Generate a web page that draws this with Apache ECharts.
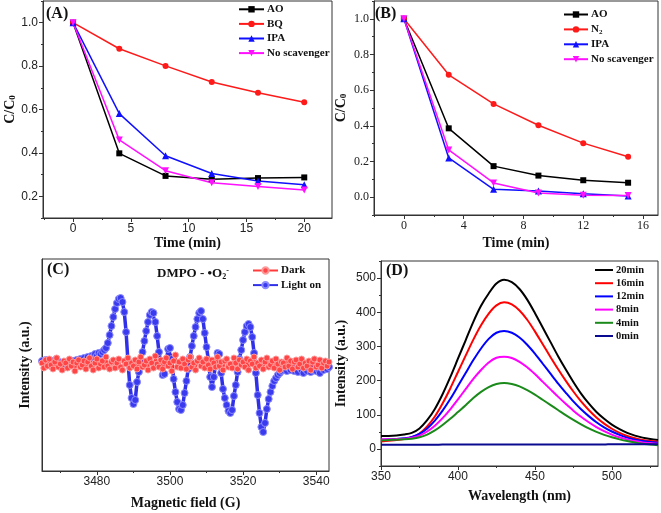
<!DOCTYPE html>
<html><head><meta charset="utf-8">
<script src="https://cdn.jsdelivr.net/npm/echarts@6/dist/echarts.min.js"></script>
<style>html,body{margin:0;padding:0;background:#fff}#c{width:661px;height:513px}</style>
</head><body><div id="c"></div>
<script>
// ---- Panel A ----
const timeA = [0, 4, 8, 12, 16, 20];
const aAO  = [1.0, 0.398, 0.294, 0.279, 0.284, 0.287];
const aBQ  = [1.0, 0.880, 0.801, 0.727, 0.677, 0.633];
const aIPA = [1.0, 0.581, 0.387, 0.305, 0.271, 0.253];
const aNo  = [1.0, 0.460, 0.318, 0.262, 0.245, 0.229];
const ticksA_x = [0, 5, 10, 15, 20];
const minorA_x = [-2.5, 2.5, 7.5, 12.5, 17.5, 22.5];
const ticksA_y = [0.2, 0.4, 0.6, 0.8, 1.0];
const minorA_y = [0.1, 0.3, 0.5, 0.7, 0.9, 1.1];
// ---- Panel B ----
const timeB = [0, 3, 6, 9, 12, 15];
const bAO  = [1.0, 0.386, 0.174, 0.121, 0.095, 0.081];
const bN2  = [1.0, 0.686, 0.523, 0.403, 0.303, 0.227];
const bIPA = [1.0, 0.220, 0.044, 0.034, 0.019, 0.006];
const bNo  = [1.0, 0.265, 0.080, 0.023, 0.011, 0.009];
const ticksB_x = [0, 4, 8, 12, 16];
const minorB_x = [-2, 2, 6, 10, 14];
const ticksB_y = [0.0, 0.2, 0.4, 0.6, 0.8, 1.0];
const minorB_y = [-0.1, 0.1, 0.3, 0.5, 0.7, 0.9, 1.1];
// ---- Panel C (EPR, field sampled every 0.5 G from 3465 G) ----
const fieldStart = 3465, fieldStep = 0.5;
const cDark = [
 2,-3,5,-1,6,0,-4,3,7,-2, 1,-5,4,2,-3,6,-1,3,-6,2, 5,-2,0,4,-4,3,7,-1,-5,2,
 6,-3,1,4,-2,8,-1,-4,3,5, -3,2,6,-2,-5,4,1,7,-3,2, -1,5,-4,3,8,-2,0,4,-5,6,
 2,-3,9,1,-2,5,-4,3,7,-1, 2,-6,4,10,-2,3,-3,6,1,-4, 5,8,-2,2,-5,4,7,-1,3,-3,
 6,0,-4,5,2,-2,8,-1,3,-5, 4,6,-2,1,-3,7,2,-4,5,0, 3,-2,6,-5,4,1,8,-3,2,-1,
 5,-4,3,7,-2,0,4,-3,6,1, -5,3,2,-2,7,-1,4,-4,3,5, -2,1,6,-3,2,-1,4,-5,3,6,
 -2,0,5,-3,2,4,-1,3];
const cLight = [
 4,2,5,1,3,-1,4,2,6,3, 0,2,-2,1,-1,3,0,4,2,5, 3,6,4,7,5,8,6,9,8,11,
 9,12,11,13,15,17,22,30,39,48, 56,62,66,67,63,53,33,4,-20,-33, -39,-35,-17,-7,3,13,24,34,43,50,
 53,52,43,29,13,1,-10,-9,4,16, 17,6,-14,-27,-37,-44,-45,-40,-28,-16, -4,8,19,29,38,46,52,54,46,32,
 18,5,-12,-22,-12,2,12,11,-8,-24, -33,-40,-46,-48,-45,-31,-20,-7,6,15, 25,33,39,41,38,28,12,-8,-30,-48,
 -62,-67,-58,-44,-34,-27,-21,-16,-13,-10, -8,-6,-5,-4,-6,-3,-5,-2,-6,-4, -7,-3,-5,-8,-4,-6,-3,-7,-5,-2,
 -6,-4,-8,-3,-5,0,-4,-2];
const ticksC_x = [3480, 3500, 3520, 3540];
const minorC_x = [3470, 3490, 3510, 3530];
// ---- Panel D ----
const wl = [350,355,360,365,370,375,380,385,390,395,400,405,410,415,420,425,430,435,440,445,450,455,460,465,470,475,480,485,490,495,500,505,510,515,520,525,530];
const d20 = [38,38,39,42,47,60,84,117,160,210,264,318,372,419,455,484,495,488,468,437,398,356,314,272,233,196,162,133,108,88,71,58,47,39,33,29,26];
const d16 = [22,24,26,29,34,45,66,95,133,177,225,273,320,362,396,420,429,423,405,378,344,307,270,234,200,168,139,114,92,74,59,47,38,31,26,23,21];
const d12 = [27,28,29,31,35,44,60,83,112,146,184,222,260,294,322,340,345,340,326,305,279,250,221,192,165,139,116,96,78,63,51,41,33,27,23,20,18];
const d8  = [28,28,29,30,33,39,51,68,90,116,145,175,205,231,253,267,270,266,255,239,219,197,175,153,132,112,94,78,64,52,42,34,28,23,19,17,15];
const d4  = [25,26,27,28,30,34,42,54,70,88,108,128,149,167,181,190,193,190,183,172,159,144,129,114,99,85,72,60,50,41,34,28,23,19,15,13,11];
const d0  = [12,12,12,12,12,12,12,12,13,13,13,13,13,13,13,13,13,13,13,13,13,13,13,13,13,13,13,13,13,13,14,14,14,14,14,14,14];
const ticksD_x = [350, 400, 450, 500];
const minorD_x = [375, 425, 475, 525];
const ticksD_y = [0, 100, 200, 300, 400, 500];
const minorD_y = [-50, 50, 150, 250, 350, 450, 550];

const SERIF = '"Liberation Serif","Times New Roman",serif';
const SANS = '"Liberation Sans",Arial,sans-serif';
const zip = (xs, ys) => ys.map((v, i) => [xs[i], v]);
const fieldX = cLight.map((_, i) => fieldStart + i * fieldStep);
const AX = '#333';

function xAx(grid, min, max, ticks, name, gap, font, fmt) {
  return { type: 'value', gridIndex: grid, min, max, name, nameLocation: 'middle', nameGap: gap, position: 'bottom',
    nameTextStyle: { fontFamily: SERIF, fontWeight: 'bold', fontSize: 14, color: '#111' },
    axisLine: { show: true, onZero: false, lineStyle: { color: AX, width: 1 } },
    axisTick: { show: true, inside: false, length: 4, customValues: ticks, lineStyle: { color: AX } },
    axisLabel: { customValues: ticks, margin: 5, fontFamily: font, fontSize: 12, color: '#222', formatter: fmt },
    splitLine: { show: false } };
}
function yAx(grid, min, max, ticks, name, gap, font, fmt) {
  const o = { type: 'value', gridIndex: grid, min, max, name, nameLocation: 'middle', nameGap: gap, position: 'left',
    nameTextStyle: { fontFamily: SERIF, fontWeight: 'bold', fontSize: 14, color: '#111',
      rich: { sub: { fontFamily: SERIF, fontWeight: 'bold', fontSize: 9, verticalAlign: 'bottom' } } },
    axisLine: { show: true, onZero: false, lineStyle: { color: AX, width: 1 } },
    axisTick: { show: !!ticks, inside: false, length: 4, lineStyle: { color: AX } },
    axisLabel: { show: !!ticks, margin: 5, fontFamily: font, fontSize: 12, color: '#222', formatter: fmt },
    splitLine: { show: false } };
  if (ticks) { o.axisTick.customValues = ticks; o.axisLabel.customValues = ticks; }
  return o;
}
function minorAx(kind, grid, min, max, ticks) {
  return { type: 'value', gridIndex: grid, min, max, position: kind === 'x' ? 'bottom' : 'left', offset: 0,
    axisLine: { show: false, onZero: false }, axisLabel: { show: false }, splitLine: { show: false },
    axisTick: { show: true, inside: false, length: 2, customValues: ticks, lineStyle: { color: AX } } };
}
const f1 = v => v.toFixed(1);
const f0 = v => String(Math.round(v));

function lineS(name, xi, data, color, symbol, size) {
  return { type: 'line', name, xAxisIndex: xi, yAxisIndex: xi, data, symbol, symbolSize: size,
    lineStyle: { color, width: 1.5 }, itemStyle: { color }, animation: false };
}
function legend(left, top, names, lh, gap, w, size, extra) {
  return Object.assign({ orient: 'vertical', left, top, padding: 0, data: names, itemGap: gap, itemWidth: w, itemHeight: 8,
    selectedMode: false,
    formatter: n => (n === 'N2' ? 'N{sub|2}' : n),
    textStyle: { fontFamily: SERIF, fontWeight: 'bold', fontSize: size, lineHeight: lh, color: '#111', padding: [0, 0, 0, -2],
      rich: { sub: { fontFamily: SERIF, fontWeight: 'bold', fontSize: 7, lineHeight: lh, verticalAlign: 'bottom', padding: [4, 0, 0, 0] } } } }, extra || {});
}
const dLine = (name, data, color) => ({ type: 'line', name, xAxisIndex: 3, yAxisIndex: 3, data, symbol: 'none', smooth: 0.3,
  lineStyle: { color, width: 2 }, itemStyle: { color }, animation: false });

const option = {
  backgroundColor: '#fff',
  animation: false,
  grid: [
    { left: 43, top: 1, width: 289, height: 217, show: true, borderColor: AX, borderWidth: 1 },
    { left: 374, top: 1, width: 284, height: 214, show: true, borderColor: AX, borderWidth: 1 },
    { left: 42, top: 259, width: 287, height: 212, show: true, borderColor: AX, borderWidth: 1 },
    { left: 381, top: 261, width: 277, height: 205, show: true, borderColor: AX, borderWidth: 1 }
  ],
  xAxis: [
    xAx(0, -2.6, 22.4, ticksA_x, 'Time (min)', 17, SANS, f0),
    xAx(1, -2, 17, ticksB_x, 'Time (min)', 21, SERIF, f0),
    xAx(2, 3465, 3543.5, ticksC_x, 'Magnetic field (G)', 25, SANS, f0),
    xAx(3, 350, 530, ticksD_x, 'Wavelength (nm)', 23, SANS, f0),
    minorAx('x', 0, -2.6, 22.4, minorA_x),
    minorAx('x', 1, -2, 17, minorB_x),
    minorAx('x', 2, 3465, 3543.5, minorC_x),
    minorAx('x', 3, 350, 530, minorD_x)
  ],
  yAxis: [
    yAx(0, 0.1, 1.1, ticksA_y, 'C/C{sub|0}', 25, SANS, f1),
    yAx(1, -0.1, 1.1, ticksB_y, 'C/C{sub|0}', 26, SERIF, f1),
    yAx(2, -106, 106, null, 'Intensity (a.u.)', 10, SANS, f0),
    yAx(3, -50, 550, ticksD_y, 'Intensity (a.u.)', 33, SANS, f0),
    minorAx('y', 0, 0.1, 1.1, minorA_y),
    minorAx('y', 1, -0.1, 1.1, minorB_y),
    minorAx('y', 3, -50, 550, minorD_y)
  ],
  legend: [
    legend(238, 3.3, ['AO', 'BQ', 'IPA', 'No scavenger'], 12, 2.6, 25, 11),
    legend(563, 8.5, ['AO', 'N2', 'IPA', 'No scavenger'], 12, 2.9, 24, 11),
    legend(252, 264.5, ['Dark', 'Light on'], 12, 2.6, 25, 11),
    legend(595, 264.5, ['20min', '16min', '12min', '8min', '4min', '0min'], 11, 2.2, 18, 10.5, { icon: 'rect', itemHeight: 2 })
  ],
  graphic: [
    { type: 'text', left: 46, top: 6, style: { text: '(A)', font: 'bold 16px ' + SERIF, fill: '#111' } },
    { type: 'text', left: 375, top: 6, style: { text: '(B)', font: 'bold 16px ' + SERIF, fill: '#111' } },
    { type: 'text', left: 47, top: 262, style: { text: '(C)', font: 'bold 16px ' + SERIF, fill: '#111' } },
    { type: 'text', left: 386, top: 263, style: { text: '(D)', font: 'bold 16px ' + SERIF, fill: '#111' } },
    { type: 'text', left: 157, top: 267, style: { text: 'DMPO - •O{sub|2}{sup|-}', font: 'bold 13px ' + SERIF, fill: '#111',
      rich: { sub: { font: 'bold 8px ' + SERIF, fill: '#111', padding: [6, 0, 0, 0] },
              sup: { font: 'bold 8px ' + SERIF, fill: '#111', padding: [0, 0, 6, 0] } } } }
  ],
  series: [
    lineS('AO', 0, zip(timeA, aAO), '#000000', 'rect', 6),
    lineS('BQ', 0, zip(timeA, aBQ), '#ff1a1a', 'circle', 6),
    lineS('IPA', 0, zip(timeA, aIPA), '#1010ff', 'triangle', 7),
    lineS('No scavenger', 0, zip(timeA, aNo), '#ff10ff', 'path://M0,0 L10,0 L5,9 Z', 7),
    lineS('AO', 1, zip(timeB, bAO), '#000000', 'rect', 6),
    lineS('N2', 1, zip(timeB, bN2), '#ff1a1a', 'circle', 6),
    lineS('IPA', 1, zip(timeB, bIPA), '#1010ff', 'triangle', 7),
    lineS('No scavenger', 1, zip(timeB, bNo), '#ff10ff', 'path://M0,0 L10,0 L5,9 Z', 7),
    Object.assign(lineS('Light on', 2, zip(fieldX, cLight), '#2a2af0', 'circle', 7),
      { z: 2, itemStyle: { color: '#3a3aee', borderColor: '#8c8cff', borderWidth: 1 }, lineStyle: { color: '#3030e8', width: 3.5 } }),
    Object.assign(lineS('Dark', 2, zip(fieldX, cDark), '#ff3b3b', 'circle', 6),
      { z: 3, itemStyle: { color: '#ff4545', borderColor: '#ff9a9a', borderWidth: 1 }, lineStyle: { color: '#ff3b3b', width: 2 } }),
    dLine('20min', zip(wl, d20), '#000000'),
    dLine('16min', zip(wl, d16), '#ff0000'),
    dLine('12min', zip(wl, d12), '#0000ff'),
    dLine('8min', zip(wl, d8), '#ff00ff'),
    dLine('4min', zip(wl, d4), '#1a8a1a'),
    dLine('0min', zip(wl, d0), '#0a0a90')
  ]
};
const chart = echarts.init(document.getElementById('c'), null, { renderer: 'canvas' });
chart.setOption(option);
</script>
</body></html>
